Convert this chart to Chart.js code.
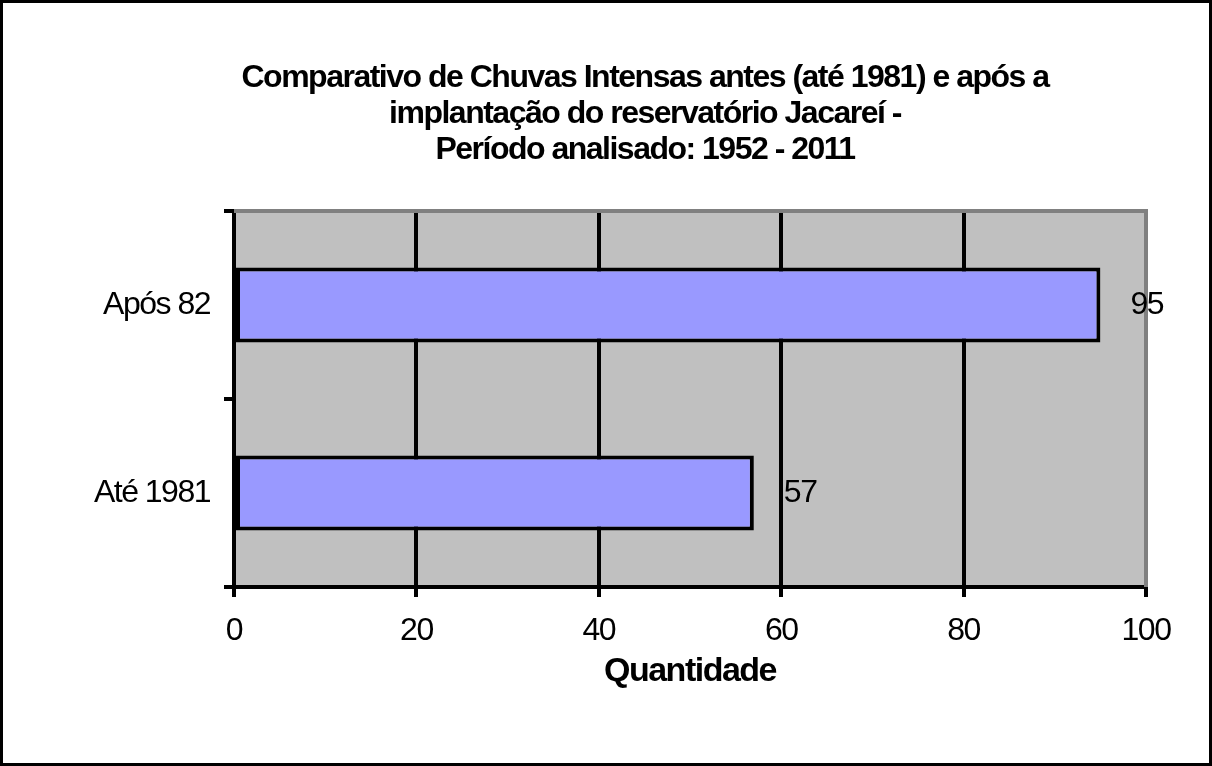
<!DOCTYPE html>
<html>
<head>
<meta charset="utf-8">
<script src="https://cdn.jsdelivr.net/npm/chart.js@4/dist/chart.umd.min.js"></script>
<style>
  html, body { margin: 0; padding: 0; background: #fff; }
  #wrap { width: 1212px; height: 766px; }
</style>
</head>
<body>
<div id="wrap"><canvas id="myChart" width="1212" height="766"></canvas></div>
<script>
// data
var categories = ['Até 1981', 'Após 82'];
var quantities = [57, 95];
var xTicks = [0, 20, 40, 60, 80, 100];
var titleLines = [
  'Comparativo de Chuvas Intensas antes (até 1981) e após a',
  'implantação do reservatório Jacareí -',
  'Período analisado: 1952 - 2011'
];
var axisTitle = 'Quantidade';

var FONT = "'Liberation Sans', Arial, sans-serif";
var TITLE_CENTER = 645;

// tight text like the original export
var tightText = {
  id: 'tightText',
  beforeUpdate: function(chart) { chart.ctx.letterSpacing = '-1.5px'; },
  beforeDraw: function(chart) { chart.ctx.letterSpacing = '-1.5px'; }
};

// title is centred a bit left of the plot in the original
var titleShift = {
  id: 'titleShift',
  afterLayout: function(chart) {
    var tb = chart.titleBlock;
    if (tb) tb.left = 2 * TITLE_CENTER - tb.right;
  }
};

// gray plot area, gray top/right border, white page, outer frame
var frame = {
  id: 'frame',
  beforeDraw: function(chart) {
    var c = chart.ctx, a = chart.chartArea;
    c.save();
    c.fillStyle = '#fff';
    c.fillRect(0, 0, chart.width, chart.height);
    c.fillStyle = '#C0C0C0';
    c.fillRect(a.left, a.top, a.right - a.left, a.bottom - a.top);
    c.restore();
  },
  beforeDatasetsDraw: function(chart) {
    var c = chart.ctx, a = chart.chartArea;
    c.save();
    c.strokeStyle = '#808080';
    c.lineWidth = 4;
    c.beginPath();
    c.moveTo(a.left, a.top);
    c.lineTo(a.right, a.top);
    c.lineTo(a.right, a.bottom);
    c.stroke();
    c.restore();
  },
  afterDraw: function(chart) {
    var c = chart.ctx;
    c.save();
    c.strokeStyle = '#000';
    c.lineWidth = 3;
    c.strokeRect(1.5, 1.5, chart.width - 3, chart.height - 3);
    c.restore();
  }
};

// value labels right of the bars
var valueLabels = {
  id: 'valueLabels',
  afterDatasetsDraw: function(chart) {
    var c = chart.ctx;
    var meta = chart.getDatasetMeta(0);
    c.save();
    c.font = '32px ' + FONT;
    c.fillStyle = '#000';
    c.textAlign = 'left';
    c.textBaseline = 'middle';
    meta.data.forEach(function(bar, i) {
      c.fillText(String(quantities[i]), bar.x + 30, bar.y);
    });
    c.restore();
  }
};

var ctx = document.getElementById('myChart').getContext('2d');

// eslint-disable-next-line no-unused-vars
var chart = new Chart(ctx, {
  type: 'bar',
  data: {
    labels: categories,
    datasets: [{
      data: quantities,
      backgroundColor: '#9999FF',
      borderColor: '#000',
      borderWidth: 4,
      borderSkipped: false,
      barPercentage: 0.5,
      categoryPercentage: 0.8
    }]
  },
  options: {
    indexAxis: 'y',
    responsive: false,
    animation: false,
    layout: { padding: { left: 84, right: 66, top: 0, bottom: 0 } },
    plugins: {
      legend: { display: false },
      tooltip: { enabled: false },
      title: {
        display: true,
        text: titleLines,
        color: '#000',
        font: { family: FONT, size: 32, weight: 'bold', lineHeight: 36 / 32 },
        padding: { top: 60, bottom: 43 }
      }
    },
    scales: {
      x: {
        min: 0,
        max: 100,
        afterBuildTicks: function(scale) {
          scale.ticks = xTicks.map(function(v) { return { value: v }; });
        },
        afterFit: function(scale) { scale.height = 179; },
        grid: {
          color: function(c) { return c.tick && c.tick.value === 100 ? '#808080' : '#000'; },
          tickColor: '#000',
          lineWidth: 4,
          tickLength: 10
        },
        border: { color: '#000', width: 4 },
        ticks: {
          color: '#000',
          padding: 15,
          maxRotation: 0,
          font: { family: FONT, size: 32 }
        },
        title: {
          display: true,
          text: axisTitle,
          color: '#000',
          font: { family: FONT, size: 34, weight: 'bold' },
          padding: { top: 0, bottom: 74 }
        }
      },
      y: {
        reverse: true,
        afterFit: function(scale) { scale.width = 150; },
        grid: {
          drawOnChartArea: false,
          color: '#000',
          lineWidth: 4,
          tickLength: 10
        },
        border: { color: '#000', width: 4 },
        ticks: {
          color: '#000',
          padding: 14,
          font: { family: FONT, size: 32 }
        }
      }
    }
  },
  plugins: [tightText, titleShift, frame, valueLabels]
});
</script>
</body>
</html>
